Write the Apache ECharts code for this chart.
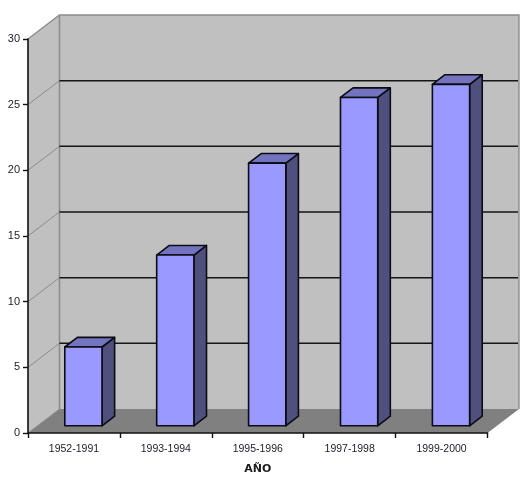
<!DOCTYPE html>
<html>
<head>
<meta charset="utf-8">
<style>html,body{margin:0;padding:0;background:#fff}#c{width:531px;height:480px}</style>
<script src="https://cdn.jsdelivr.net/npm/echarts@6/dist/echarts.min.js"></script>
</head>
<body>
<div id="c"></div>
<script>
var categories = ['1952-1991', '1993-1994', '1995-1996', '1997-1998', '1999-2000'];
var values = [6, 13, 20, 25, 26];
var yTicks = [0, 5, 10, 15, 20, 25, 30];
var xTitle = 'AÑO';

var depthX = 31.5, depthY = -24;
var chart = echarts.init(document.getElementById('c'), null, {renderer: 'canvas'});

function poly(points, fill, stroke, width) {
  return {type: 'polygon', shape: {points: points},
    style: {fill: fill, stroke: stroke || null, lineWidth: width || 0, lineJoin: 'round'}};
}

chart.setOption({
  animation: false,
  backgroundColor: '#fff',
  grid: {left: 28, right: 43.5, top: 39, bottom: 46},
  xAxis: {
    type: 'category', data: categories, z: 6,
    axisLine: {lineStyle: {color: '#111', width: 1.6}},
    axisTick: {show: true, length: 5, lineStyle: {color: '#111', width: 1.4}},
    axisLabel: {color: '#1c1c2c', fontSize: 10.5, fontFamily: 'Liberation Sans', margin: 11, interval: 0},
    name: xTitle, nameLocation: 'middle', nameGap: 31,
    nameTextStyle: {color: '#1c1c1c', fontSize: 11, fontWeight: 'bold', fontFamily: 'DejaVu Sans'}
  },
  yAxis: {
    type: 'value', min: 0, max: 30, interval: 5, z: 6,
    axisLine: {show: true, lineStyle: {color: '#111', width: 1.6}},
    axisTick: {show: true, length: 5, lineStyle: {color: '#111', width: 1.4}},
    axisLabel: {color: '#1c1c2c', fontSize: 11, fontFamily: 'Liberation Sans', margin: 8},
    splitLine: {show: false}
  },
  series: [
    { // walls and floor
      type: 'custom', coordinateSystem: 'cartesian2d', z: 1, clip: false, silent: true,
      data: [[0, 0]],
      renderItem: function (params, api) {
        var s = params.coordSys, l = s.x, r = s.x + s.width, t = s.y, b = s.y + s.height;
        return {type: 'group', children: [
          poly([[l, t], [l + depthX, t + depthY], [r + depthX, t + depthY], [r + depthX, b + depthY], [l + depthX, b + depthY], [l, b]], '#c0c0c0'),
          poly([[l, b], [l + depthX, b + depthY], [r + depthX, b + depthY], [r, b]], '#808080'),
          {type: 'polyline', shape: {points: [[l, t], [l + depthX, t + depthY], [r + depthX, t + depthY], [r + depthX, b + depthY]]},
            style: {fill: null, stroke: '#8c8c8c', lineWidth: 1.4}},
          {type: 'line', shape: {x1: l + depthX, y1: t + depthY, x2: l + depthX, y2: b + depthY},
            style: {stroke: '#8c8c8c', lineWidth: 1.6}}
        ]};
      }
    },
    { // gridlines on side and back walls
      type: 'custom', coordinateSystem: 'cartesian2d', z: 2, clip: false, silent: true,
      data: yTicks.slice(0, -1).map(function (v) { return [0, v]; }),
      renderItem: function (params, api) {
        var s = params.coordSys, l = s.x, r = s.x + s.width;
        var y = api.coord([0, api.value(1)])[1];
        var kids = [{type: 'line', shape: {x1: l, y1: y, x2: l + depthX, y2: y + depthY},
          style: {stroke: '#8c8c8c', lineWidth: 1}}];
        if (api.value(1) > 0) {
          kids.push({type: 'line', shape: {x1: l + depthX, y1: y + depthY, x2: r + depthX - 1, y2: y + depthY},
            style: {stroke: '#151515', lineWidth: 1.5}});
        }
        return {type: 'group', children: kids};
      }
    },
    { // 3D bars
      type: 'custom', coordinateSystem: 'cartesian2d', z: 3, clip: false,
      encode: {x: 0, y: 1},
      data: values.map(function (v, i) { return [i, v]; }),
      renderItem: function (params, api) {
        var base = api.coord([api.value(0), 0]);
        var top = api.coord([api.value(0), api.value(1)]);
        var w = api.size([1, 0])[0] * 0.405;
        var fx = depthX * 0.3, fy = depthY * 0.3, dx = depthX * 0.4, dy = depthY * 0.4;
        var x0 = base[0] - w / 2 + fx, x1 = x0 + w, yb = base[1] + fy, yt = top[1] + fy;
        var line = '#0c0c14';
        return {type: 'group', children: [
          poly([[x1, yt], [x1 + dx, yt + dy], [x1 + dx, yb + dy], [x1, yb]], '#50507f', line, 1.6),
          poly([[x0, yt], [x0 + dx, yt + dy], [x1 + dx, yt + dy], [x1, yt]], '#7373bf', line, 1.6),
          poly([[x0, yt], [x1, yt], [x1, yb], [x0, yb]], '#9999ff', line, 1.6)
        ]};
      }
    }
  ]
});
</script>
</body>
</html>
